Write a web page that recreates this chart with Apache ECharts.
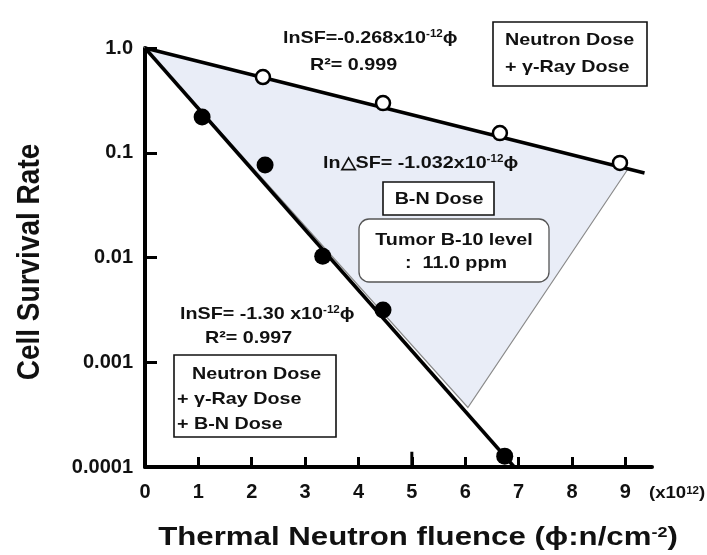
<!DOCTYPE html>
<html>
<head>
<meta charset="utf-8">
<script src="https://cdn.jsdelivr.net/npm/echarts@6/dist/echarts.min.js"></script>
<style>
  html, body { margin: 0; padding: 0; background: #fff; }
  #chart { width: 707px; height: 555px; }
</style>
</head>
<body>
<div id="chart"></div>
<script>
// tick labels
var xTicks = [0, 1, 2, 3, 4, 5, 6, 7, 8, 9];
var xMajorTick = 5;
var yTickLabels = ['1.0', '0.1', '0.01', '0.001', '0.0001'];

// Neutron + gamma dose (open circles)
var openX = [2.21, 4.46, 6.65, 8.90];
var openY = [0.528, 0.298, 0.154, 0.080];

// Neutron + gamma + B-N dose (filled circles)
var filledX = [1.07, 2.25, 3.33, 4.46, 6.74];
var filledY = [0.219, 0.0764, 0.0103, 0.00316, 0.000127];

// fitted lines
var fitUpperX = [0, 9.36];
var fitUpperY = [1, 0.064];
var fitLowerX = [0, 6.92];
var fitLowerY = [1, 0.0001];

// shaded B-N dose region
var shadeX = [0, 9.05, 6.05];
var shadeY = [1, 0.07, 0.00037];

function pairs(xs, ys) {
    var out = [];
    for (var i = 0; i < xs.length; i++) {
        out.push([xs[i], ys[i]]);
    }
    return out;
}

var FONT = "'Liberation Sans', Arial, sans-serif";
var SX = 1.16; // the source figure is a bit stretched horizontally

function richStyle(size, supSize) {
    return {
        a: { fontSize: size, fontWeight: 'bold', fontFamily: FONT, fill: '#111' },
        s: { fontSize: supSize, fontWeight: 'bold', fontFamily: FONT, fill: '#111', verticalAlign: 'top' }
    };
}

// plain text annotation
function label(x, y, text, align) {
    return {
        type: 'text', x: x, y: y, scaleX: SX, z: 100,
        style: {
            text: text, fontSize: 17, fontWeight: 'bold', fontFamily: FONT, fill: '#111',
            align: align || 'left', verticalAlign: 'middle'
        }
    };
}

// text with a superscript part
function supLabel(x, y, main, sup, tail, size, supSize, align) {
    return {
        type: 'text', x: x, y: y, scaleX: SX, z: 100,
        style: {
            text: '{a|' + main + '}{s|' + sup + '}{a|' + tail + '}',
            rich: richStyle(size || 17, supSize || 10),
            align: align || 'left', verticalAlign: 'middle'
        }
    };
}

function box(x, y, w, h, r, stroke, lw) {
    return {
        type: 'rect', z: 90,
        shape: { x: x, y: y, width: w, height: h, r: r || 0 },
        style: { fill: '#fff', stroke: stroke || '#111', lineWidth: lw || 1.6 }
    };
}

var myChart = echarts.init(document.getElementById('chart'), null, { renderer: 'canvas' });

var option = {
    animation: false,
    backgroundColor: '#fff',
    grid: {
        left: 145,
        top: 48,
        right: 55,
        bottom: 88
    },
    xAxis: {
        type: 'value',
        min: 0,
        max: 9.5,
        splitLine: { show: false },
        axisLine: { lineStyle: { color: '#000', width: 4 } },
        axisTick: {
            show: true,
            inside: true,
            length: 10,
            customValues: xTicks,
            lineStyle: { color: '#000', width: 3 }
        },
        axisLabel: {
            customValues: xTicks,
            margin: 15,
            fontSize: 20,
            fontWeight: 'bold',
            fontFamily: FONT,
            color: '#111'
        }
    },
    yAxis: {
        type: 'log',
        logBase: 10,
        min: 0.0001,
        max: 1,
        splitLine: { show: false },
        axisLine: { lineStyle: { color: '#000', width: 4 } },
        axisTick: {
            show: true,
            inside: true,
            length: 12,
            lineStyle: { color: '#000', width: 3 }
        },
        axisLabel: {
            margin: 12,
            fontSize: 20,
            fontWeight: 'bold',
            fontFamily: FONT,
            color: '#111',
            formatter: function (v) {
                var idx = Math.round(-Math.log10(v));
                return yTickLabels[idx] !== undefined ? yTickLabels[idx] : '';
            }
        }
    },
    graphic: [
        // axis titles
        {
            type: 'text', x: 30, y: 262, rotation: Math.PI / 2, scaleY: 1.15, z: 100,
            style: {
                text: 'Cell Survival Rate', fontSize: 28, fontWeight: 'bold', fontFamily: FONT,
                fill: '#111', align: 'center', verticalAlign: 'middle'
            }
        },
        {
            type: 'text', x: 418, y: 538, scaleX: 1.2, z: 100,
            style: {
                text: '{a|Thermal Neutron fluence (ϕ:n/cm}{s|-2}{a|)}',
                rich: richStyle(26, 15),
                align: 'center', verticalAlign: 'middle'
            }
        },
        supLabel(649, 494, '(x10', '12', ')', 16, 10),

        // upper line annotation
        supLabel(283, 38, 'lnSF=-0.268x10', '-12', 'ϕ'),
        label(310, 65, 'R²= 0.999'),
        box(493, 22, 154, 64),
        label(505, 40, 'Neutron Dose'),
        label(505, 67, '+ γ-Ray Dose'),

        // B-N region annotation
        supLabel(323, 163, 'ln△SF= -1.032x10', '-12', 'ϕ'),
        box(383, 182, 111, 33),
        label(439, 199, 'B-N Dose', 'center'),
        box(359, 219, 190, 63, 10, '#555', 1.3),
        label(454, 240, 'Tumor B-10 level', 'center'),
        label(456, 263, ':  11.0 ppm', 'center'),

        // lower line annotation
        supLabel(180, 314, 'lnSF= -1.30 x10', '-12', 'ϕ'),
        label(205, 338, 'R²= 0.997'),
        box(174, 355, 162, 82),
        label(192, 374, 'Neutron Dose'),
        label(177, 399, '+ γ-Ray Dose'),
        label(177, 424, '+ B-N Dose')
    ],
    series: [
        {
            type: 'custom',
            coordinateSystem: 'cartesian2d',
            silent: true,
            z: 1,
            data: pairs(shadeX, shadeY),
            renderItem: function (params, api) {
                if (params.dataIndex !== 0) return;
                var pts = [];
                for (var i = 0; i < shadeX.length; i++) {
                    pts.push(api.coord([shadeX[i], shadeY[i]]));
                }
                return {
                    type: 'polygon',
                    shape: { points: pts },
                    style: { fill: '#e9edf7', stroke: '#8a8a8a', lineWidth: 1.2 }
                };
            }
        },
        {
            name: 'fit upper',
            type: 'line',
            z: 3,
            showSymbol: false,
            silent: true,
            data: pairs(fitUpperX, fitUpperY),
            lineStyle: { color: '#000', width: 3.5 }
        },
        {
            name: 'fit lower',
            type: 'line',
            z: 3,
            showSymbol: false,
            silent: true,
            data: pairs(fitLowerX, fitLowerY),
            lineStyle: { color: '#000', width: 3.5 }
        },
        {
            // taller tick at x = 5
            name: 'major tick',
            type: 'line',
            z: 4,
            showSymbol: false,
            silent: true,
            data: [[xMajorTick, 0.0001], [xMajorTick, 0.00014]],
            lineStyle: { color: '#000', width: 3 }
        },
        {
            name: 'Neutron + γ-Ray',
            type: 'scatter',
            z: 5,
            symbol: 'circle',
            symbolSize: 14,
            data: pairs(openX, openY),
            itemStyle: { color: '#fff', borderColor: '#000', borderWidth: 2.5, opacity: 1 }
        },
        {
            name: 'Neutron + γ-Ray + B-N',
            type: 'scatter',
            z: 5,
            symbol: 'circle',
            symbolSize: 17,
            data: pairs(filledX, filledY),
            itemStyle: { color: '#000', opacity: 1 }
        }
    ]
};

myChart.setOption(option, true);
</script>
</body>
</html>
